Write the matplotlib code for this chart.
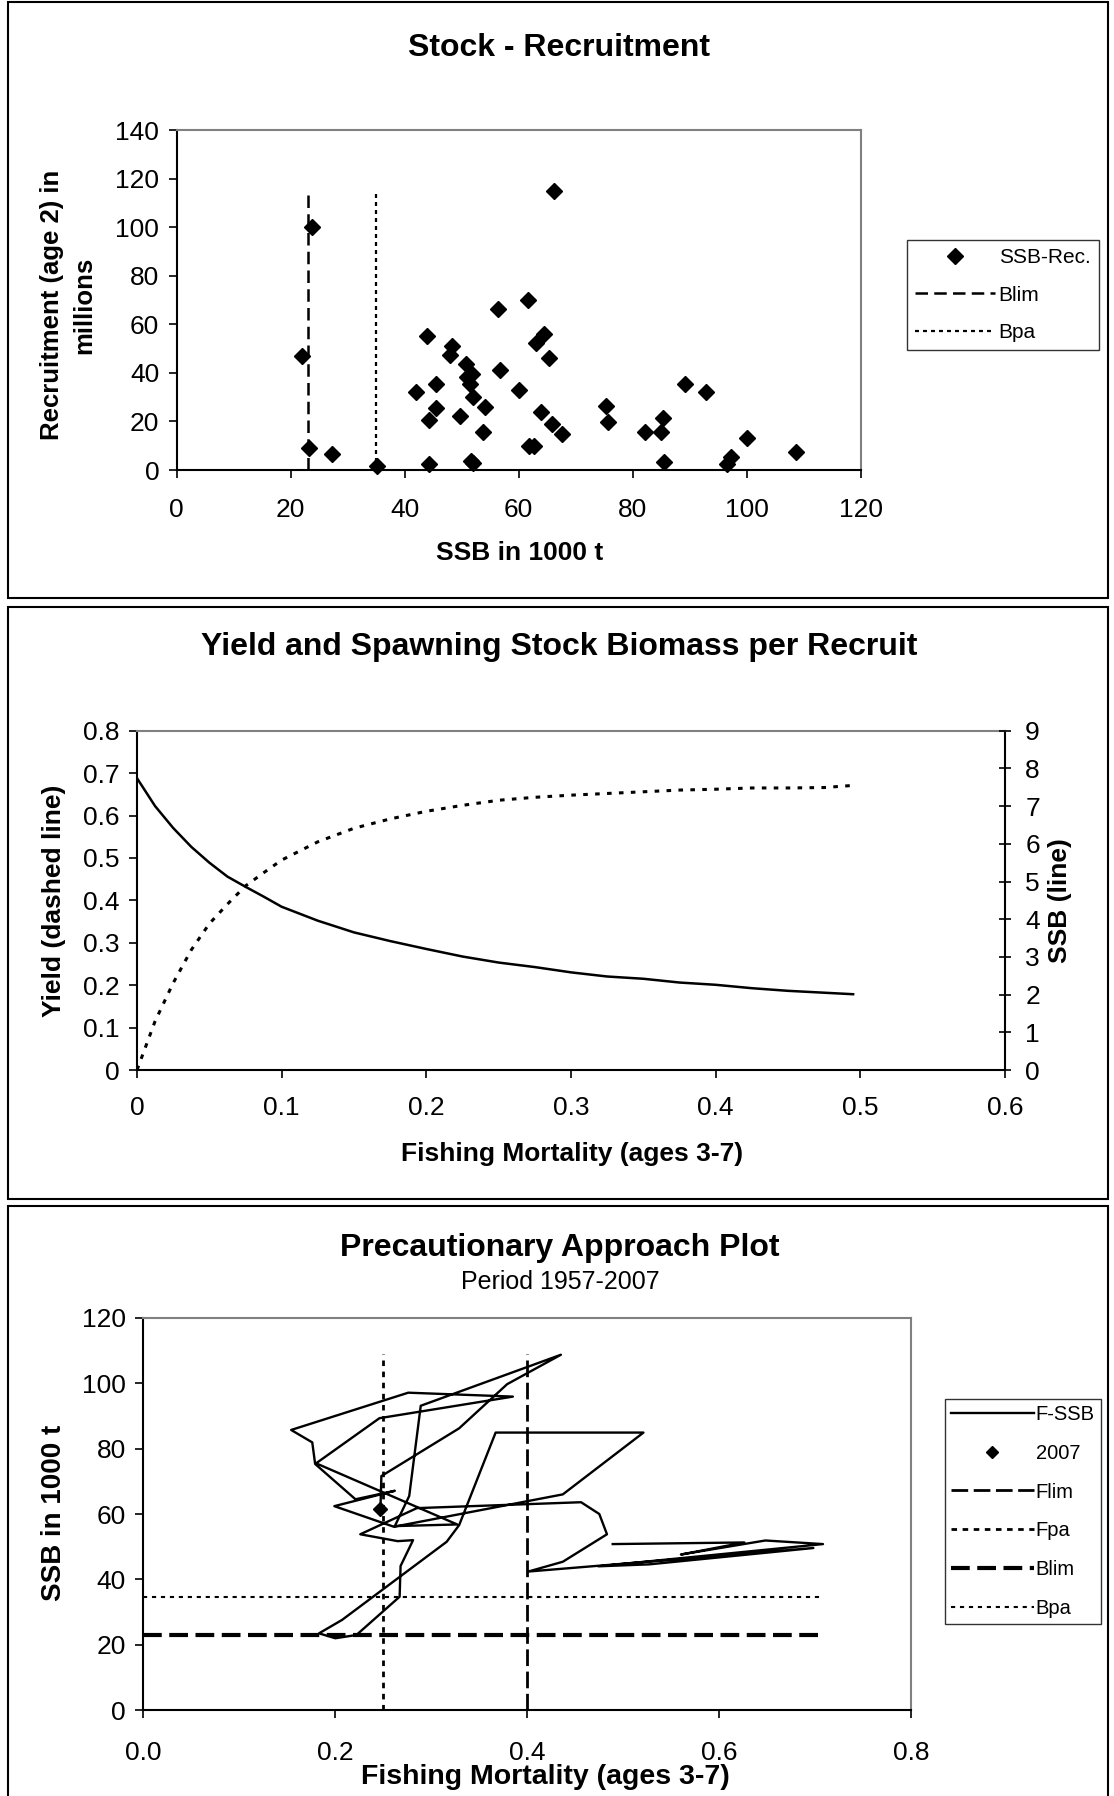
"""three-panel stock summary: stock-recruitment, yield/SSB per recruit, PA plot."""
import matplotlib
matplotlib.use("Agg")
import matplotlib.pyplot as plt
from matplotlib.patches import Rectangle

W, H = 1114, 1796

# stock - recruitment
sr_ssb = [23.8, 22.0, 23.2, 27.3, 35.1, 66.2, 61.7, 56.4, 43.9, 64.4, 63.1, 48.3,
          48.0, 65.3, 50.8, 51.8, 51.0, 56.8, 51.5, 45.5, 42.0, 60.0, 51.9, 89.1,
          92.9, 54.0, 45.5, 75.4, 63.9, 49.7, 44.2, 75.7, 85.3, 65.9, 53.7, 67.6,
          82.1, 84.9, 100.0, 61.8, 62.7, 108.7, 44.2, 51.6, 51.9, 85.5, 97.2, 96.5]
sr_rec = [100.0, 47.0, 9.0, 6.6, 1.6, 115.0, 70.0, 66.5, 55.0, 56.0, 52.5, 51.0,
          47.5, 46.0, 43.7, 39.6, 38.4, 41.0, 35.3, 35.4, 32.0, 33.0, 30.2, 35.4,
          32.0, 26.0, 25.5, 26.2, 23.9, 22.2, 20.4, 19.6, 21.4, 18.8, 15.5, 14.7,
          15.5, 15.5, 13.2, 9.9, 9.9, 7.3, 2.5, 3.9, 3.0, 3.2, 5.2, 2.5]
blim = 23.0
bpa = 35.0
sr_ref_top = 115.0

# yield and SSB per recruit
f_pr = [0, 0.0125, 0.025, 0.0375, 0.05, 0.0625, 0.075, 0.0875, 0.1, 0.125, 0.15,
        0.175, 0.2, 0.225, 0.25, 0.275, 0.3, 0.325, 0.35, 0.375, 0.4, 0.425, 0.45,
        0.475, 0.495]
yield_pr = [0.0, 0.115, 0.205, 0.283, 0.345, 0.391, 0.434, 0.465, 0.495, 0.538,
            0.570, 0.592, 0.610, 0.624, 0.636, 0.643, 0.648, 0.652, 0.656, 0.660,
            0.662, 0.665, 0.665, 0.666, 0.671]
ssb_pr = [7.74, 7.00, 6.42, 5.92, 5.50, 5.13, 4.86, 4.60, 4.33, 3.96, 3.65, 3.42,
          3.21, 3.01, 2.85, 2.73, 2.59, 2.48, 2.42, 2.32, 2.26, 2.17, 2.10, 2.05, 2.01]

# precautionary approach plot
pa_f = [0.489, 0.626, 0.560, 0.648, 0.708, 0.474, 0.527, 0.698, 0.401, 0.437,
        0.483, 0.475, 0.456, 0.285, 0.226, 0.265, 0.281, 0.268, 0.267, 0.222,
        0.200, 0.183, 0.207, 0.316, 0.329, 0.367, 0.521, 0.437, 0.261, 0.199,
        0.262, 0.221, 0.179, 0.176, 0.154, 0.276, 0.385, 0.246, 0.180, 0.327,
        0.262, 0.277, 0.289, 0.435, 0.379, 0.329, 0.248, 0.247]
pa_ssb = [50.8, 51.3, 47.6, 51.9, 50.8, 44.0, 44.6, 49.6, 42.4, 45.4, 53.8, 60.0,
          63.6, 61.8, 53.8, 51.7, 52.0, 44.1, 34.7, 23.0, 22.0, 23.5, 27.6, 51.5,
          56.6, 84.9, 84.9, 66.0, 56.1, 62.4, 67.1, 64.5, 75.3, 81.9, 85.7, 97.1,
          95.9, 89.3, 75.5, 56.8, 56.3, 65.5, 93.1, 108.7, 99.7, 86.2, 71.6, 61.5]
last_f, last_ssb = 0.247, 61.5
flim = 0.40
fpa = 0.25
pa_bpa = 34.5
pa_f_top = 109.0
pa_b_right = 0.705

sr_xticks = [0, 20, 40, 60, 80, 100, 120]
sr_yticks = [0, 20, 40, 60, 80, 100, 120, 140]
pr_xticks = [0, 0.1, 0.2, 0.3, 0.4, 0.5, 0.6]
pr_xlabels = ["0", "0.1", "0.2", "0.3", "0.4", "0.5", "0.6"]
pr_yticks = [0, 0.1, 0.2, 0.3, 0.4, 0.5, 0.6, 0.7, 0.8]
pr_ylabels = ["0", "0.1", "0.2", "0.3", "0.4", "0.5", "0.6", "0.7", "0.8"]
pr_y2ticks = list(range(10))
pa_xticks = [0, 0.2, 0.4, 0.6, 0.8]
pa_xlabels = ["0.0", "0.2", "0.4", "0.6", "0.8"]
pa_yticks = [0, 20, 40, 60, 80, 100, 120]

TICK_FS = 19
LAB_FS = 19
TITLE_FS = 23

plt.rcParams["font.family"] = ["Liberation Sans", "DejaVu Sans"]


def fx(x):
    return x / W


def fy(y):
    return 1 - y / H


def add_axes_px(fig, x0, y_top, x1, y_bot):
    return fig.add_axes([x0 / W, 1 - y_bot / H, (x1 - x0) / W, (y_bot - y_top) / H])


def excel_style(ax, xpad, ypad=6.5):
    for side in ("top", "right"):
        ax.spines[side].set_color("#808080")
        ax.spines[side].set_linewidth(1.5)
    for side in ("left", "bottom"):
        ax.spines[side].set_color("black")
        ax.spines[side].set_linewidth(1.5)
    ax.tick_params(direction="out", length=6, width=1.2, labelsize=TICK_FS)
    ax.tick_params(axis="x", pad=xpad)
    ax.tick_params(axis="y", pad=ypad)


def panel_box(fig, y0, y1):
    fig.patches.append(Rectangle((fx(8), fy(y1)), (1108 - 8) / W, (y1 - y0) / H,
                                 transform=fig.transFigure, fill=False,
                                 ec="black", lw=1.5))


def stock_recruitment(fig):
    panel_box(fig, 2, 598)
    ax = add_axes_px(fig, 176.7, 130, 860.7, 470)
    ax.plot(sr_ssb, sr_rec, ls="none", marker="D", ms=8.5, color="black",
            label="SSB-Rec.", clip_on=False, zorder=3)
    ax.plot([blim, blim], [0, sr_ref_top], color="black", lw=1.8,
            dashes=(5, 2.5), label="Blim")
    ax.plot([bpa, bpa], [0, sr_ref_top], color="black", lw=1.6,
            dashes=(1.8, 1.8), label="Bpa")
    ax.set_xlim(0, 120)
    ax.set_ylim(0, 140)
    ax.set_xticks(sr_xticks)
    ax.set_yticks(sr_yticks)
    excel_style(ax, xpad=14)
    ax.legend(loc="upper left", bbox_to_anchor=(fx(907), fy(240)),
              bbox_transform=fig.transFigure, borderaxespad=0, fontsize=15,
              frameon=True, fancybox=False, edgecolor="black", handlelength=3.8,
              handletextpad=0.2, labelspacing=0.88, borderpad=0.4,
              markerscale=0.9)

    fig.text(fx(559), fy(48), "Stock - Recruitment", ha="center", va="center",
             fontsize=TITLE_FS, fontweight="bold")
    fig.text(fx(520), fy(553), "SSB in 1000 t", ha="center", va="center",
             fontsize=LAB_FS, fontweight="bold")
    fig.text(fx(52), fy(305), "Recruitment (age 2) in", ha="center", va="center",
             rotation=90, fontsize=18.5, fontweight="bold")
    fig.text(fx(84), fy(305), "millions", ha="center", va="center",
             rotation=90, fontsize=18.5, fontweight="bold")


def per_recruit(fig):
    panel_box(fig, 607, 1199)
    ax = add_axes_px(fig, 137, 730.7, 1005, 1070)
    ax2 = ax.twinx()
    ax.plot(f_pr, yield_pr, color="black", lw=2.2, dashes=(1.5, 2.4))
    ax2.plot(f_pr, ssb_pr, color="black", lw=1.8)
    ax.set_xlim(0, 0.6)
    ax.set_ylim(0, 0.8)
    ax2.set_ylim(0, 9)
    ax.set_xticks(pr_xticks)
    ax.set_xticklabels(pr_xlabels)
    ax.set_yticks(pr_yticks)
    ax.set_yticklabels(pr_ylabels)
    ax2.set_yticks(pr_y2ticks)
    excel_style(ax, xpad=12.5)
    for side in ("top", "right", "left", "bottom"):
        ax2.spines[side].set_visible(False)
    ax.spines["right"].set_color("black")
    ax2.tick_params(axis="y", direction="inout", length=9, width=1.2,
                    labelsize=TICK_FS, pad=10)

    fig.text(fx(559), fy(647), "Yield and Spawning Stock Biomass per Recruit",
             ha="center", va="center", fontsize=TITLE_FS, fontweight="bold")
    fig.text(fx(572), fy(1154), "Fishing Mortality (ages 3-7)", ha="center",
             va="center", fontsize=LAB_FS, fontweight="bold")
    fig.text(fx(54), fy(901), "Yield (dashed line)", ha="center", va="center",
             rotation=90, fontsize=LAB_FS, fontweight="bold")
    fig.text(fx(1060), fy(901), "SSB (line)", ha="center", va="center",
             rotation=90, fontsize=LAB_FS, fontweight="bold")


def pa_plot(fig):
    panel_box(fig, 1206, 1830)
    ax = add_axes_px(fig, 143.3, 1317.8, 911.3, 1710.2)
    ax.plot(pa_f, pa_ssb, color="black", lw=1.7, label="F-SSB", zorder=3)
    ax.plot([last_f], [last_ssb], ls="none", marker="D", ms=7, color="black",
            label="2007", zorder=4)
    ax.plot([flim, flim], [0, pa_f_top], color="black", lw=2.0, dashes=(6, 2),
            label="Flim")
    ax.plot([fpa, fpa], [0, pa_f_top], color="black", lw=2.0, dashes=(2, 2),
            label="Fpa")
    ax.plot([0, pa_b_right], [blim, blim], color="black", lw=3.0, dashes=(4.5, 1.8),
            label="Blim")
    ax.plot([0, pa_b_right], [pa_bpa, pa_bpa], color="black", lw=1.5,
            dashes=(2, 2.3), label="Bpa")
    ax.set_xlim(0, 0.8)
    ax.set_ylim(0, 120)
    ax.set_xticks(pa_xticks)
    ax.set_xticklabels(pa_xlabels)
    ax.set_yticks(pa_yticks)
    excel_style(ax, xpad=16)
    ax.legend(loc="upper left", bbox_to_anchor=(fx(945), fy(1399)),
              bbox_transform=fig.transFigure, borderaxespad=0, fontsize=14.5,
              frameon=True, fancybox=False, edgecolor="black", handlelength=4.1,
              handletextpad=0.1, labelspacing=0.98, borderpad=0.3,
              markerscale=0.9)

    fig.text(fx(560), fy(1248), "Precautionary Approach Plot", ha="center",
             va="center", fontsize=TITLE_FS, fontweight="bold")
    fig.text(fx(560), fy(1282), "Period 1957-2007", ha="center", va="center",
             fontsize=18)
    fig.text(fx(545), fy(1777), "Fishing Mortality (ages 3-7)", ha="center",
             va="center", fontsize=20.5, fontweight="bold")
    fig.text(fx(54), fy(1513), "SSB in 1000 t", ha="center", va="center",
             rotation=90, fontsize=20, fontweight="bold")


def main():
    fig = plt.figure(figsize=(W / 100, H / 100), dpi=100)
    stock_recruitment(fig)
    per_recruit(fig)
    pa_plot(fig)
    fig.savefig("out.png", dpi=100)


if __name__ == "__main__":
    main()
